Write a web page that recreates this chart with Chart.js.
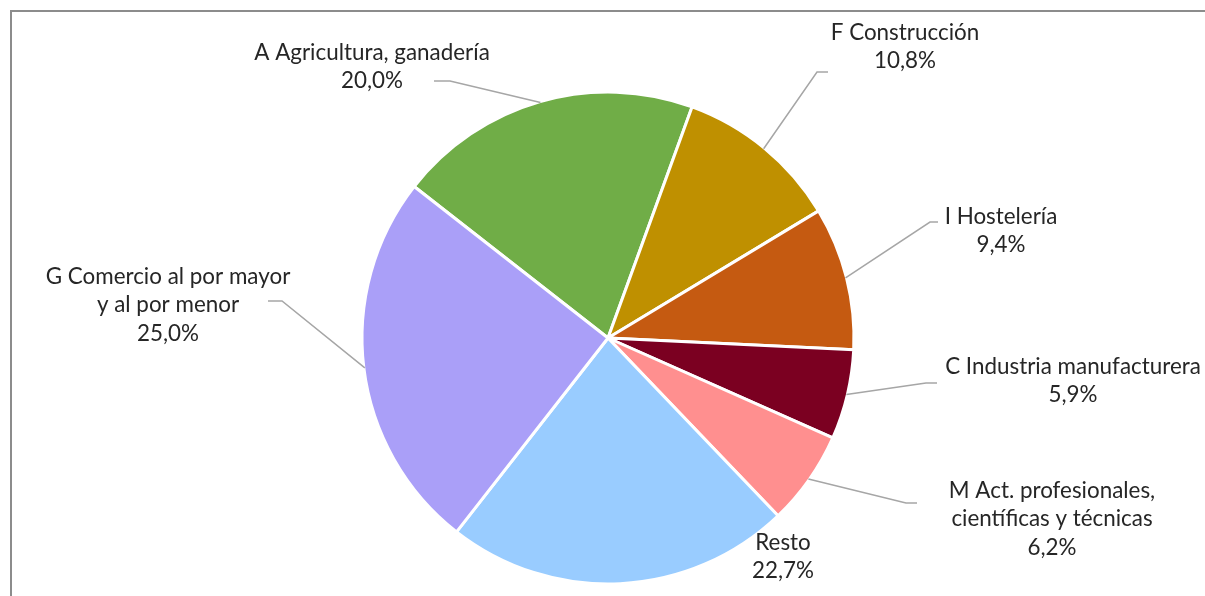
<!DOCTYPE html>
<html>
<head>
<meta charset="utf-8">
<script src="https://cdn.jsdelivr.net/npm/chart.js@4"></script>
<style>
  html, body { margin: 0; padding: 0; background: #fff; }
  #wrap { position: relative; width: 1205px; height: 596px; overflow: hidden; }
  #frame { position: absolute; left: 10px; top: 10px; right: -5px; bottom: -5px;
           border-top: 2px solid #8c8c8c; border-left: 2px solid #8c8c8c; }
  canvas { position: absolute; left: 0; top: 0; }
</style>
</head>
<body>
<div id="wrap">
  <div id="frame"></div>
  <canvas id="pie" width="1205" height="596"></canvas>
</div>
<script>
// sectors, clockwise starting at A
const sectors = [
    ['A Agricultura, ganadería'],
    ['F Construcción'],
    ['I Hostelería'],
    ['C Industria manufacturera'],
    ['M Act. profesionales,', 'científicas y técnicas'],
    ['Resto'],
    ['G Comercio al por mayor', 'y al por menor']
];
const shares = [20.0, 10.8, 9.4, 5.9, 6.2, 22.7, 25.0];
const colors = ['#70AD47', '#BF9000', '#C55A11', '#7B0021', '#FF8F8F', '#99CCFF', '#AA9FF8'];

// label placement (center of text block relative to the pie center)
// and where the leader leaves the label
const labelPos = [
    { dx: -236, dy: -271, sx: 62,  sy: 14,  elbow: 16,  leader: true },
    { dx: 297,  dy: -291, sx: -77, sy: 25,  elbow: -11, leader: true },
    { dx: 393,  dy: -107, sx: -63, sy: -9,  elbow: -8,  leader: true },
    { dx: 465,  dy: 43,   sx: -136, sy: 2,  elbow: -11, leader: true },
    { dx: 444,  dy: 181,  sx: -135, sy: -16, elbow: -11, leader: true },
    { dx: 175,  dy: 219,  sx: 0,   sy: 0,   elbow: 0,   leader: false },
    { dx: -440, dy: -33,  sx: 100, sy: -4,  elbow: 14,  leader: true }
];

const fmtPct = (v) => v.toFixed(1).replace('.', ',') + '%';

const outsideLabels = {
    id: 'outsideLabels',
    afterDatasetsDraw(chart) {
        const ctx = chart.ctx;
        const arcs = chart.getDatasetMeta(0).data;
        ctx.save();
        arcs.forEach((arc, i) => {
            const p = labelPos[i];
            const cx = arc.x, cy = arc.y;
            const lx = cx + p.dx, ly = cy + p.dy;

            // leader line to the middle of the slice edge
            if (p.leader) {
                const a = (arc.startAngle + arc.endAngle) / 2;
                const r = arc.outerRadius - 1;
                const tx = cx + Math.cos(a) * r, ty = cy + Math.sin(a) * r;
                const sx = lx + p.sx, sy = ly + p.sy;
                ctx.strokeStyle = '#a6a6a6';
                ctx.lineWidth = 1.5;
                ctx.beginPath();
                ctx.moveTo(sx, sy);
                ctx.lineTo(sx + p.elbow, sy);
                ctx.lineTo(tx, ty);
                ctx.stroke();
            }

            // text
            const lines = sectors[i].concat([fmtPct(shares[i])]);
            const lh = 28.5;
            ctx.fillStyle = '#262626';
            ctx.font = '22.4px Lato';
            ctx.textAlign = 'center';
            ctx.textBaseline = 'middle';
            const top = ly - (lines.length - 1) * lh / 2;
            lines.forEach((t, k) => ctx.fillText(t, lx, top + k * lh));
        });
        ctx.restore();
    }
};

new Chart(document.getElementById('pie'), {
    type: 'pie',
    data: {
        labels: sectors.map(s => s.join(' ')),
        datasets: [{
            data: shares,
            backgroundColor: colors,
            borderColor: '#ffffff',
            borderWidth: 3,
            radius: 246
        }]
    },
    options: {
        responsive: false,
        animation: false,
        rotation: -52,
        layout: { padding: { left: 20, right: 9, top: 90, bottom: 10 } },
        plugins: {
            legend: { display: false },
            tooltip: { enabled: false }
        }
    },
    plugins: [outsideLabels]
});
</script>
</body>
</html>
